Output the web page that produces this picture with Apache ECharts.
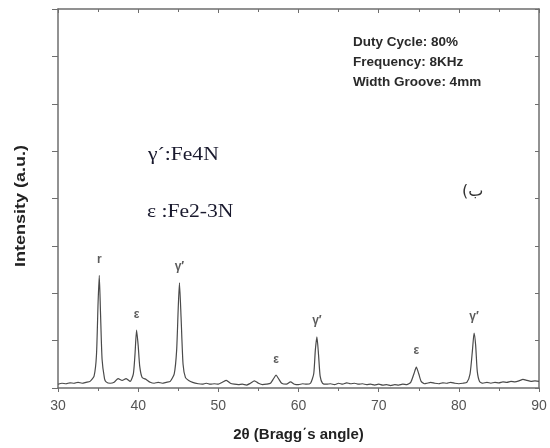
<!DOCTYPE html>
<html lang="en">
<head>
  <meta charset="UTF-8">
  <title>XRD pattern</title>
  <script src="https://cdn.jsdelivr.net/npm/echarts@6/dist/echarts.min.js"></script>
  <style>
    html, body { margin: 0; padding: 0; background: #fff; }
    #chart { width: 550px; height: 448px; }
  </style>
</head>
<body>
<div id="chart"></div>
<script>
  // diffraction pattern
  const twoTheta = [30, 30.5, 31, 31.5, 32, 32.5, 33, 33.5, 34, 34.5, 34.8, 35, 35.15, 35.3, 35.5, 35.8, 36, 36.5, 37, 37.5,
    38, 38.5, 39, 39.4, 39.6, 39.8, 40, 40.2, 40.5, 41, 41.5, 42, 42.5, 43, 43.5, 44, 44.5, 44.8, 45, 45.15,
    45.35, 45.6, 45.9, 46.3, 46.8, 47.5, 48, 48.5, 49, 49.5, 50, 50.5, 51, 51.5, 52, 52.5, 53, 53.5, 54, 54.5,
    55, 55.5, 56, 56.5, 56.9, 57.2, 57.5, 57.9, 58.5, 59, 59.5, 60, 60.5, 61, 61.5, 61.9, 62.1, 62.3, 62.5, 62.7,
    63, 63.5, 64, 64.5, 65, 65.5, 66, 66.5, 67, 67.5, 68, 68.5, 69, 69.5, 70, 70.5, 71, 71.5, 72, 72.5,
    73, 73.5, 74, 74.4, 74.7, 75, 75.3, 75.7, 76, 76.5, 77, 77.5, 78, 78.5, 79, 79.5, 80, 80.5, 81, 81.4,
    81.7, 81.9, 82.1, 82.3, 82.6, 83, 83.5, 84, 84.5, 85, 85.5, 86, 86.5, 87, 87.5, 88, 88.5, 89, 89.5, 90];
  const intensity = [0.08, 0.1, 0.09, 0.11, 0.1, 0.12, 0.1, 0.12, 0.14, 0.25, 0.7, 1.8, 2.38, 1.6, 0.6, 0.2, 0.13, 0.1, 0.12, 0.2,
    0.16, 0.2, 0.14, 0.3, 0.7, 1.22, 0.9, 0.45, 0.22, 0.18, 0.12, 0.1, 0.12, 0.1, 0.12, 0.14, 0.3, 0.8, 1.7, 2.22,
    1.5, 0.5, 0.22, 0.16, 0.12, 0.09, 0.08, 0.1, 0.08, 0.09, 0.08, 0.12, 0.16, 0.1, 0.08, 0.07, 0.08, 0.06, 0.1, 0.15,
    0.1, 0.07, 0.08, 0.1, 0.2, 0.27, 0.2, 0.1, 0.08, 0.13, 0.08, 0.07, 0.09, 0.08, 0.1, 0.3, 0.8, 1.08, 0.7, 0.25,
    0.1, 0.08, 0.09, 0.07, 0.1, 0.08, 0.11, 0.09, 0.1, 0.08, 0.09, 0.07, 0.08, 0.06, 0.08, 0.06, 0.07, 0.05, 0.07, 0.06,
    0.08, 0.07, 0.12, 0.3, 0.44, 0.3, 0.14, 0.09, 0.1, 0.12, 0.1, 0.09, 0.11, 0.1, 0.12, 0.1, 0.09, 0.1, 0.12, 0.3,
    0.8, 1.16, 0.9, 0.35, 0.13, 0.1, 0.12, 0.1, 0.12, 0.11, 0.13, 0.12, 0.14, 0.13, 0.15, 0.18, 0.16, 0.14, 0.15, 0.14];

  // phase labels over the peaks
  const peakAngles = [35.15, 39.8, 45.15, 57.2, 62.3, 74.7, 81.9];
  const peakHeights = [2.38, 1.22, 2.22, 0.27, 1.08, 0.44, 1.16];
  const peakLabels = ['r', 'ε', 'γ′', 'ε', 'γ′', 'ε', 'γ′'];

  const xTicks = [30, 40, 50, 60, 70, 80, 90];

  let chart = echarts.init(document.getElementById('chart'), null, {renderer: 'canvas'});

  let lineData = twoTheta.map((x, k) => [x, intensity[k]]);
  let peakData = peakAngles.map((x, k) => ({value: [x, peakHeights[k]], label: {formatter: peakLabels[k]}}));

  const axisColor = '#6e6e6e';

  let option = {
    animation: false,
    backgroundColor: '#fff',
    grid: {left: 58, right: 11, top: 9, bottom: 60},
    xAxis: [
      {
        type: 'value',
        min: xTicks[0],
        max: xTicks[xTicks.length - 1],
        interval: 10,
        name: '2θ (Bragg΄s angle)',
        nameLocation: 'middle',
        nameGap: 39,
        nameTextStyle: {fontFamily: 'Liberation Sans', fontWeight: 'bold', fontSize: 15, color: '#222'},
        axisLine: {onZero: false, lineStyle: {color: axisColor, width: 1.5}},
        axisTick: {inside: false, length: 4, lineStyle: {color: axisColor}},
        minorTick: {show: true, splitNumber: 2, length: 3, lineStyle: {color: axisColor}},
        axisLabel: {fontFamily: 'Liberation Sans', fontSize: 14, color: '#555', margin: 11},
        splitLine: {show: false}
      },
      {
        type: 'value',
        position: 'top',
        min: xTicks[0],
        max: xTicks[xTicks.length - 1],
        interval: 10,
        axisLine: {show: true, onZero: false, lineStyle: {color: axisColor, width: 1.5}},
        axisTick: {show: true, inside: true, length: 4, lineStyle: {color: axisColor}},
        minorTick: {show: true, splitNumber: 2, length: 3, lineStyle: {color: axisColor}},
        axisLabel: {show: false},
        splitLine: {show: false}
      }
    ],
    yAxis: [
      {
        type: 'value',
        min: 0,
        max: 8,
        interval: 1,
        axisLine: {show: true, onZero: false, lineStyle: {color: axisColor, width: 1.5}},
        axisTick: {show: true, inside: false, length: 6, lineStyle: {color: axisColor}},
        axisLabel: {show: false},
        splitLine: {show: false}
      },
      {
        type: 'value',
        position: 'right',
        min: 0,
        max: 8,
        interval: 1,
        axisLine: {show: true, onZero: false, lineStyle: {color: axisColor, width: 1.5}},
        axisTick: {show: true, inside: true, length: 4, lineStyle: {color: axisColor}},
        axisLabel: {show: false},
        splitLine: {show: false}
      }
    ],
    series: [
      {
        type: 'line',
        data: lineData,
        showSymbol: false,
        smooth: 0.2,
        lineStyle: {color: '#4a4a4a', width: 1.2}
      },
      {
        type: 'scatter',
        data: peakData,
        symbolSize: 0,
        label: {
          show: true,
          position: 'top',
          distance: 10,
          fontFamily: 'Liberation Sans',
          fontWeight: 'bold',
          fontSize: 12,
          color: '#333'
        }
      }
    ],
    graphic: [
      {
        // y axis title, drawn a little stretched like the source
        type: 'text', x: 21, y: 206, rotation: Math.PI / 2, scaleX: 1.2,
        style: {
          text: 'Intensity (a.u.)', font: 'bold 15px "Liberation Sans"', fill: '#222',
          align: 'center', verticalAlign: 'middle'
        }
      },
      {
        type: 'text', x: 353, y: 32,
        style: {
          text: 'Duty Cycle: 80%\nFrequency: 8KHz\nWidth Groove: 4mm',
          font: 'bold 13.5px "Liberation Sans"', fill: '#2a2a2a', lineHeight: 20
        }
      },
      {
        type: 'text', x: 148, y: 155, scaleX: 1.2,
        style: {text: 'γ´:Fe4N', font: '18px "Liberation Serif"', fill: '#1a1a2e', verticalAlign: 'middle'}
      },
      {
        type: 'text', x: 147, y: 212, scaleX: 1.2,
        style: {text: 'ε :Fe2-3N', font: '18px "Liberation Serif"', fill: '#1a1a2e', verticalAlign: 'middle'}
      },
      {
        type: 'text', x: 462, y: 192,
        style: {text: '(ب', font: '16px "DejaVu Sans"', fill: '#333', verticalAlign: 'middle'}
      }
    ]
  };
  chart.setOption(option);
</script>
</body>
</html>
